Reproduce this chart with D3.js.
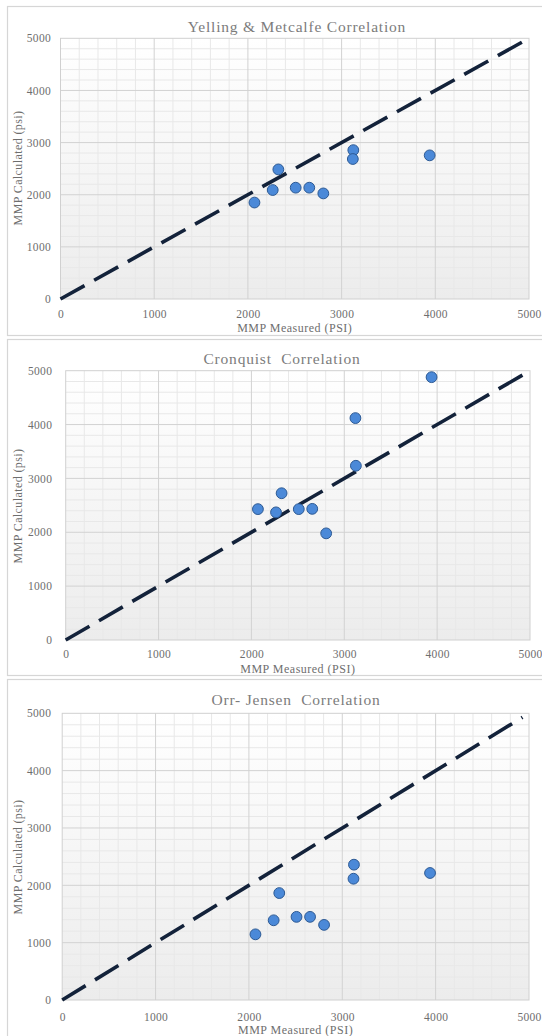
<!DOCTYPE html>
<html>
<head>
<meta charset="utf-8">
<script src="https://cdn.jsdelivr.net/npm/d3@7"></script>
<style>
  html, body { margin: 0; padding: 0; background: #fff; }
  svg { display: block; }
  .tick text { font-family: "Liberation Serif", "Times New Roman", serif; }
</style>
</head>
<body>
<svg id="chart" width="542" height="1036"></svg>
<script>
// Measured minimum miscibility pressure for each sample (psi)
const measured = [2070, 2265, 2325, 2510, 2655, 2805, 3125, 3120, 3940];

// MMP computed by each correlation for the same samples (psi)
const yellingMetcalfe = [1850, 2090, 2485, 2135, 2135, 2025, 2855, 2685, 2755];
const cronquist       = [2430, 2370, 2725, 2430, 2435, 1980, 3235, 4120, 4880];
const orrJensen       = [1145, 1390, 1865, 1450, 1450, 1310, 2360, 2115, 2215];

const panelTitles = ["Yelling & Metcalfe Correlation", "Cronquist  Correlation", "Orr- Jensen  Correlation"];
const panelSeries = [yellingMetcalfe, cronquist, orrJensen];

const tickValues = [0, 1000, 2000, 3000, 4000, 5000];
const axisMax = 5000;
const parityEnd = 4930;   // extent of the y = x reference line

const xTitle = "MMP Measured (PSI)";
const yTitle = "MMP Calculated (psi)";

// Page layout of the three stacked chart boxes
const layout = [
  { box: [6, 335],   plot: { left: 60.5, right: 529, top: 38.3,  bottom: 299 },
    titleX: 297, titleY: 32, yPad: 9.5, xPad: 11,   xTitleY: 332, yTitleY: 168 },
  { box: [339, 675], plot: { left: 65.7, right: 530, top: 370.7, bottom: 640 },
    titleX: 282, titleY: 364, yPad: 13.5, xPad: 10, xTitleY: 673, yTitleY: 506 },
  { box: [679, 1060], plot: { left: 62.2, right: 529, top: 713.3, bottom: 1000 },
    titleX: 296, titleY: 705, yPad: 11, xPad: 12.5, xTitleY: 1034, yTitleY: 857 }
];

const svg = d3.select("#chart");
const defs = svg.append("defs");
const serif = '"Liberation Serif", "Times New Roman", serif';

panelTitles.forEach((title, i) => {
  const L = layout[i];
  const P = L.plot;
  const values = panelSeries[i];
  const g = svg.append("g");

  // chart box outline
  g.append("rect")
    .attr("x", 7.5).attr("y", L.box[0] + 0.5)
    .attr("width", 560).attr("height", L.box[1] - L.box[0])
    .attr("fill", "#fff").attr("stroke", "#d6d6d6").attr("stroke-width", 1.2);

  const x = d3.scaleLinear().domain([0, axisMax]).range([P.left, P.right]);
  const y = d3.scaleLinear().domain([0, axisMax]).range([P.bottom, P.top]);

  // plot area fill: white fading to light grey
  const gradId = "plotFill" + i;
  const grad = defs.append("linearGradient").attr("id", gradId)
    .attr("x1", 0).attr("y1", 0).attr("x2", 0).attr("y2", 1);
  grad.append("stop").attr("offset", "0%").attr("stop-color", "#ffffff");
  grad.append("stop").attr("offset", "100%").attr("stop-color", "#ececec");

  g.append("rect")
    .attr("x", P.left).attr("y", P.top)
    .attr("width", P.right - P.left).attr("height", P.bottom - P.top)
    .attr("fill", `url(#${gradId})`);

  // minor gridlines every 200 psi
  const minor = d3.range(200, axisMax, 200).filter(v => v % 1000 !== 0);
  g.append("g").selectAll("line").data(minor).join("line")
    .attr("x1", d => x(d)).attr("x2", d => x(d))
    .attr("y1", P.top).attr("y2", P.bottom)
    .attr("stroke", "#e8e8e8").attr("stroke-width", 1);
  g.append("g").selectAll("line").data(minor).join("line")
    .attr("y1", d => y(d)).attr("y2", d => y(d))
    .attr("x1", P.left).attr("x2", P.right)
    .attr("stroke", "#e8e8e8").attr("stroke-width", 1);

  // major gridlines
  const major = tickValues.slice(1, -1);
  g.append("g").selectAll("line").data(major).join("line")
    .attr("x1", d => x(d)).attr("x2", d => x(d))
    .attr("y1", P.top).attr("y2", P.bottom)
    .attr("stroke", "#d2d2d2").attr("stroke-width", 1);
  g.append("g").selectAll("line").data(major).join("line")
    .attr("y1", d => y(d)).attr("y2", d => y(d))
    .attr("x1", P.left).attr("x2", P.right)
    .attr("stroke", "#d2d2d2").attr("stroke-width", 1);

  // plot area border
  g.append("rect")
    .attr("x", P.left).attr("y", P.top)
    .attr("width", P.right - P.left).attr("height", P.bottom - P.top)
    .attr("fill", "none").attr("stroke", "#d0d0d0").attr("stroke-width", 1);

  // axes (labels only)
  const xAxis = g.append("g").attr("transform", `translate(0,${P.bottom})`)
    .call(d3.axisBottom(x).tickValues(tickValues).tickFormat(d3.format("d"))
      .tickSize(0).tickPadding(L.xPad));
  const yAxis = g.append("g").attr("transform", `translate(${P.left},0)`)
    .call(d3.axisLeft(y).tickValues(tickValues).tickFormat(d3.format("d"))
      .tickSize(0).tickPadding(L.yPad));
  [xAxis, yAxis].forEach(a => {
    a.select(".domain").remove();
    a.selectAll("text")
      .attr("fill", "#6e6e6e")
      .style("font-size", "11.5px")
      .style("letter-spacing", "0.3px");
  });

  // y = x reference line
  g.append("line")
    .attr("x1", x(0)).attr("y1", y(0))
    .attr("x2", x(parityEnd)).attr("y2", y(parityEnd))
    .attr("stroke", "#13223a").attr("stroke-width", 3.6)
    .attr("stroke-dasharray", "27.5,11");

  // measured vs calculated points
  g.append("g").selectAll("circle").data(measured).join("circle")
    .attr("cx", d => x(d))
    .attr("cy", (d, k) => y(values[k]))
    .attr("r", 5.4)
    .attr("fill", "#4b89d8")
    .attr("stroke", "#2d5a94")
    .attr("stroke-width", 1);

  // titles
  g.append("text")
    .attr("x", L.titleX).attr("y", L.titleY)
    .attr("text-anchor", "middle")
    .attr("fill", "#7c7c7c")
    .style("font-family", serif).style("font-size", "15.5px")
    .style("letter-spacing", "0.8px")
    .style("white-space", "pre")
    .text(title);

  g.append("text")
    .attr("x", (P.left + P.right) / 2).attr("y", L.xTitleY)
    .attr("text-anchor", "middle")
    .attr("fill", "#6e6e6e")
    .style("font-family", serif).style("font-size", "12px")
    .style("letter-spacing", "0.5px")
    .text(xTitle);

  g.append("text")
    .attr("transform", `translate(22,${L.yTitleY}) rotate(-90)`)
    .attr("text-anchor", "middle")
    .attr("fill", "#6e6e6e")
    .style("font-family", serif).style("font-size", "12px")
    .style("letter-spacing", "0.4px")
    .text(yTitle);
});
</script>
</body>
</html>
